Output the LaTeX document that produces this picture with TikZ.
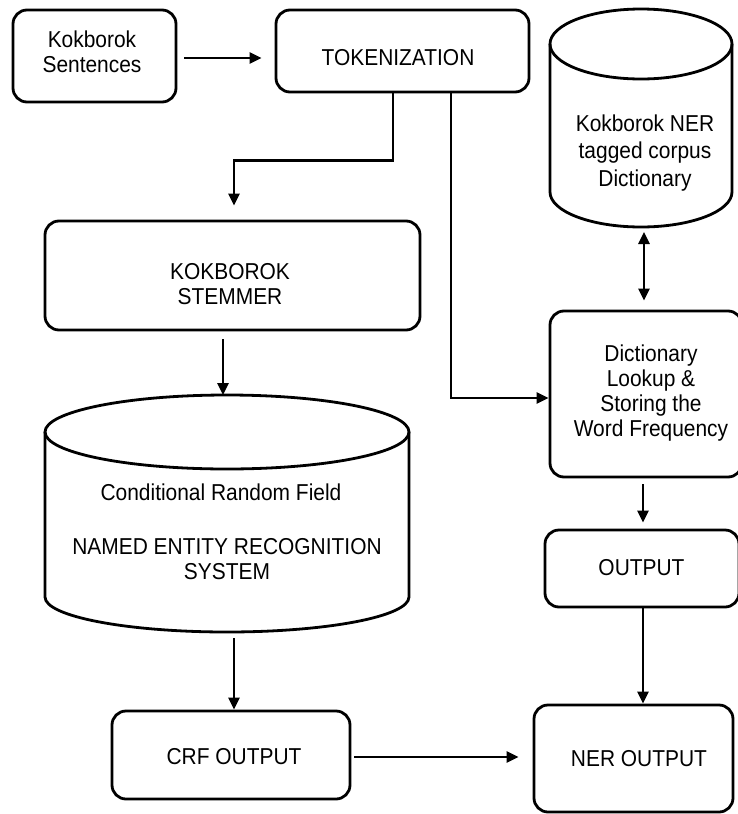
\documentclass[tikz,border=0pt]{standalone}
\usepackage{fontspec}
\setmainfont{Liberation Sans}[FakeStretch=0.91]
\usetikzlibrary{arrows.meta,calc}
\begin{document}
\begin{tikzpicture}[x=1pt,y=-1pt,
  box/.style={draw,line width=2.8pt,rounded corners=14pt,inner sep=0pt},
  txt/.style={font=\fontsize{23}{25}\selectfont,align=center,inner sep=0pt},
  ctxt/.style={font=\fontsize{23}{27.5}\selectfont,align=center,inner sep=0pt},
  arr/.style={line width=2.6pt,-{Triangle[length=12pt,width=11pt]}},
  arrb/.style={line width=2.6pt,{Triangle[length=12pt,width=11pt]}-{Triangle[length=12pt,width=11pt]}},
  cyl/.style={line width=2.8pt}]
\useasboundingbox (0,0) rectangle (737,814);

% boxes
\node[box,minimum width=163pt,minimum height=92pt] (sent) at (94.5,56) {};
\node[txt] (sentt) at (92,51.5) {Kokborok\\Sentences};
\node[box,minimum width=253pt,minimum height=82pt] (tok) at (402.5,51) {};
\node[txt] (tokt) at (398,58) {TOKENIZATION};
\node[box,minimum width=375pt,minimum height=109pt] (stem) at (232.5,275.5) {};
\node[txt] (stemt) at (230,284.5) {KOKBOROK\\STEMMER};
\node[box,minimum width=192pt,minimum height=166pt] (dict) at (646,394) {};
\node[txt] (dictt) at (651,393.5) {Dictionary\\Lookup \&\\Storing the\\Word Frequency};
\node[box,minimum width=194pt,minimum height=77pt] (output) at (642,568.5) {};
\node[txt] (outputt) at (641.5,568) {OUTPUT};
\node[box,minimum width=238pt,minimum height=88pt] (crf) at (231,755) {};
\node[txt] (crft) at (234,757) {CRF OUTPUT};
\node[box,minimum width=199pt,minimum height=107pt] (ner) at (633.5,758.5) {};
\node[txt] (nert) at (639,759) {NER OUTPUT};

% cylinder 1: corpus
\draw[cyl] (641,44) ellipse [x radius=91, y radius=35];
\draw[cyl] (550,44) -- (550,192) arc[start angle=180,end angle=0,x radius=91,y radius=35] -- (732,44);
\node[ctxt] (corpus) at (645,153) {Kokborok NER\\tagged corpus\\Dictionary};
\coordinate (c1b) at (644,227);

% cylinder 2: CRF NER system
\draw[cyl] (227,432) ellipse [x radius=182, y radius=37];
\draw[cyl] (45,432) -- (45,597) arc[start angle=180,end angle=0,x radius=182,y radius=35] -- (409,432);
\node[txt] (crfsys) at (221,492) {Conditional Random Field};
\node[txt] (nersys) at (227,559.5) {NAMED ENTITY RECOGNITION\\SYSTEM};
\coordinate (c2t) at (223,395);
\coordinate (c2b) at (234,632);

% connectors
\draw[arr, shorten <=7pt, shorten >=13pt] ([yshift=-2pt]sent.east) -- ([yshift=-2pt]sent.east -| tok.west);
\draw[arr, shorten >=14pt] ($(tok.south)+(-9.5,0)$) |- ($(stem.north)+(1.5,-59)$) -- ($(stem.north)+(1.5,0)$);
\draw[arr] ($(tok.south)+(48.5,0)$) |- ([yshift=-4pt]dict.west);
\draw[arrb, shorten <=5pt, shorten >=9pt] (c1b) -- (c1b |- dict.north);
\draw[arr, shorten <=8pt] (stem.south -| c2t) -- (c2t);
\draw[arr, shorten <=6pt] (c2b) -- (c2b |- crf.north);
\draw[arr, shorten <=3pt, shorten >=14pt] ([yshift=-2pt]crf.east) -- ([yshift=-2pt]crf.east -| ner.west);
\draw[arr, shorten <=6pt, shorten >=6pt] ($(dict.south)+(-3,0)$) -- ($(output.north)+(1,0)$);
\draw[arr] ($(output.south)+(1,0)$) -- ($(ner.north)+(9.5,0)$);
\end{tikzpicture}
\end{document}
